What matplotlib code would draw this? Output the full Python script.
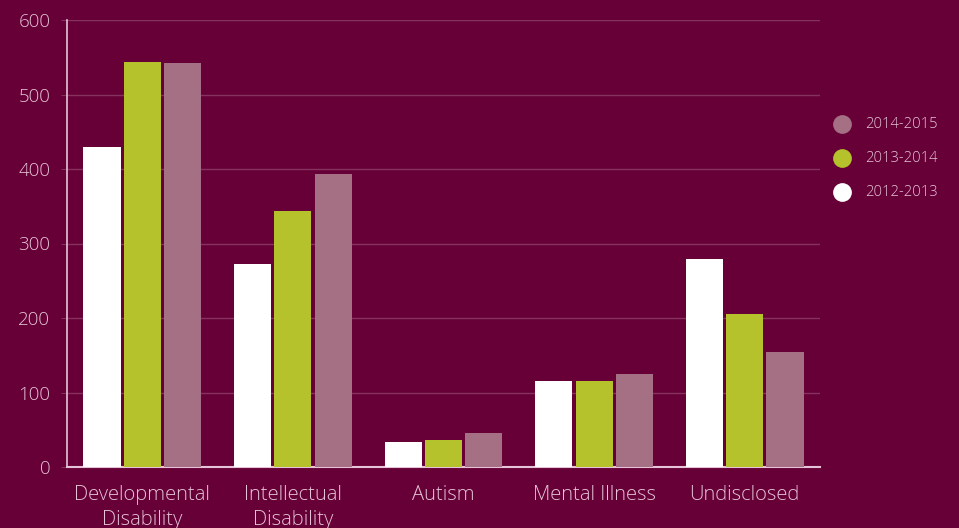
import matplotlib
matplotlib.use("Agg")
import matplotlib.pyplot as plt
from matplotlib.lines import Line2D
import numpy as np

categories = ["Developmental\nDisability", "Intellectual\nDisability", "Autism", "Mental Illness", "Undisclosed"]
series_names = ["2012-2013", "2013-2014", "2014-2015"]
v_2012 = [430, 273, 34, 115, 279]
v_2013 = [544, 343, 36, 115, 206]
v_2014 = [542, 393, 46, 125, 155]
yticks = [0, 100, 200, 300, 400, 500, 600]

bg = "#660037"
txt = "#e6c3d6"
grid_c = "#85325e"
colors = ["#ffffff", "#b5c22b", "#a57084"]

plt.rcParams['font.family'] = ['Open Sans', 'DejaVu Sans']

fig = plt.figure(figsize=(9.59, 5.28), dpi=100, facecolor=bg)
ax = fig.add_axes([67/959, 61/528, 753/959, 447/528])
ax.set_facecolor(bg)

x = np.arange(len(categories))
w = 0.247
step = 0.267
for i, (vals, c) in enumerate(zip([v_2012, v_2013, v_2014], colors)):
    ax.bar(x + (i - 1) * step, vals, width=w, color=c, zorder=3, label=series_names[i])

ax.set_xlim(-0.5, 4.5)
ax.set_ylim(0, 600)
ax.set_yticks(yticks)
ax.set_yticklabels([str(t) for t in yticks], fontsize=13.5, color=txt, fontweight='light')
ax.set_xticks(x)
ax.set_xticklabels(categories, fontsize=14.5, color=txt, fontweight='light', linespacing=1.3)
ax.yaxis.grid(True, color=grid_c, linewidth=1, zorder=0)
ax.tick_params(axis='y', length=4, color=grid_c, pad=8)
ax.tick_params(axis='x', length=0, pad=13)
for s in ['top', 'right']:
    ax.spines[s].set_visible(False)
ax.spines['left'].set_color(txt)
ax.spines['bottom'].set_color(txt)
ax.spines['left'].set_linewidth(1.2)
ax.spines['bottom'].set_linewidth(1.5)

# legend (custom, reversed order)
legend_y = [124, 158, 192]
for name, c, yy in zip(series_names[::-1], colors[::-1], legend_y):
    fig.add_artist(Line2D([842/959], [1 - yy/528], transform=fig.transFigure, marker='o',
                          markersize=13.5, color=c, markeredgewidth=0, linestyle='none'))
    fig.text(865/959, 1 - yy/528, name, color=txt, fontsize=10.6, va='center', ha='left', fontweight='light')

fig.savefig("out.png", dpi=100, facecolor=bg)
